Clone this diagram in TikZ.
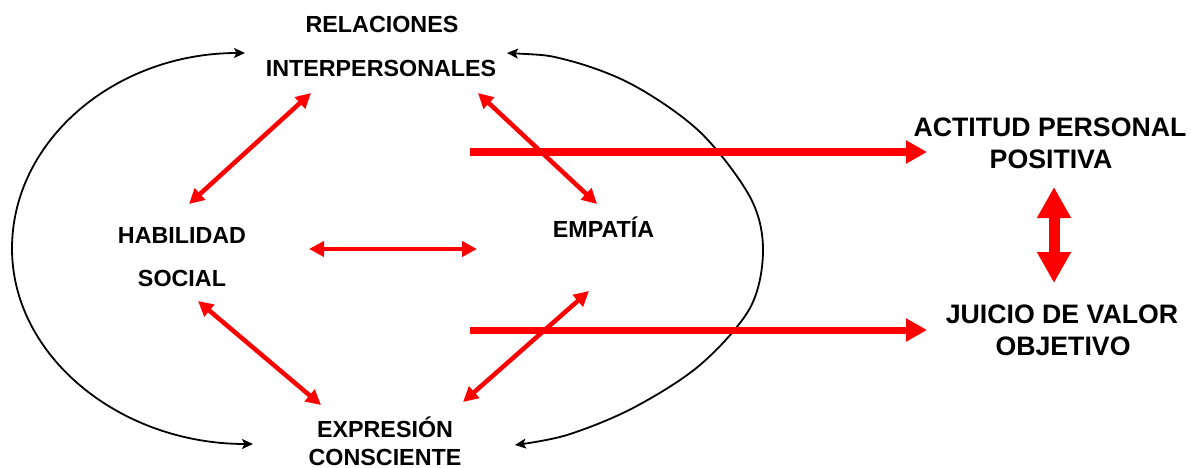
\documentclass[tikz,border=0pt]{standalone}
\usepackage{fontspec}
\setmainfont{Liberation Sans}
\usetikzlibrary{arrows.meta}
\begin{document}
\begin{tikzpicture}[x=1pt,y=-1pt,
  lblL/.style={font=\fontsize{23.3}{28}\selectfont\bfseries, inner sep=0pt, anchor=base},
  lblR/.style={font=\fontsize{26.7}{32}\selectfont\bfseries, inner sep=0pt, anchor=base},
  cycarrow/.style={black, line width=1.8pt, {Stealth[length=11pt,width=10pt,inset=2.5pt]}-{Stealth[length=11pt,width=10pt,inset=2.5pt]}},
  redarrow/.style={red, line width=4.5pt, {Triangle[length=15pt,width=15pt]}-{Triangle[length=15pt,width=15pt]}},
  thickarrow/.style={red, line width=7pt, -{Triangle[length=21pt,width=22pt]}},
  vdouble/.style={red, line width=11pt, {Triangle[length=31pt,width=32pt]}-{Triangle[length=31pt,width=32pt]}}]
\useasboundingbox (0,0) rectangle (1191,468);
\fill[white] (0,0) rectangle (1191,468);

% labels
\node[lblL] (rel1) at (382,33) {RELACIONES};
\node[lblL] (rel2) at (381,77) {INTERPERSONALES};
\node[lblL] (hab1) at (182,243) {HABILIDAD};
\node[lblL] (hab2) at (182,286) {SOCIAL};
\node[lblL] (emp)  at (603.5,237) {EMPATÍA};
\node[lblL] (exp1) at (385,437) {EXPRESIÓN};
\node[lblL] (exp2) at (385,465.5) {CONSCIENTE};
\node[lblR] (act1) at (1050,137) {ACTITUD PERSONAL};
\node[lblR] (act2) at (1051,168) {POSITIVA};
\node[lblR] (jui1) at (1062,323) {JUICIO DE VALOR};
\node[lblR] (jui2) at (1063,355) {OBJETIVO};

% connector end points
\coordinate (lt) at (245,53);  \coordinate (ll) at (12,248.5);  \coordinate (lb) at (253,444);
\coordinate (rt) at (507,53);  \coordinate (rr) at (763,250);   \coordinate (rb) at (515,445);
\coordinate (hr1) at (189,204); \coordinate (hr2) at (311,93);
\coordinate (re1) at (478,93);  \coordinate (re2) at (597,204);
\coordinate (he1) at (309,249); \coordinate (he2) at (477,249);
\coordinate (se1) at (198,301); \coordinate (se2) at (321,405);
\coordinate (ee1) at (589,291); \coordinate (ee2) at (463,402);
\coordinate (a1s) at (470,152); \coordinate (a1e) at (927,152);
\coordinate (a2s) at (470,330); \coordinate (a2e) at (927,330);
\coordinate (v1) at (1054,187); \coordinate (v2) at (1054,283);

% black cycle arcs
\draw[cycarrow] (lt) .. controls (115,53) and (12,140.5) .. (ll)
                     .. controls (12,356.5) and (120,444) .. (lb);
\draw[cycarrow] plot[smooth, tension=0.55] coordinates {(rt) (567,60) (633,85) (700,132) (750,197) (rr) (750,308) (700,365) (633,408) (567,435) (rb)};

% thick arrows to the right
\draw[thickarrow] (a1s) -- (a1e);
\draw[thickarrow] (a2s) -- (a2e);
\draw[vdouble] (v1) -- (v2);

% red double arrows
\draw[redarrow] (hr1) -- (hr2);
\draw[redarrow] (re1) -- (re2);
\draw[redarrow] (he1) -- (he2);
\draw[redarrow] (se1) -- (se2);
\draw[redarrow] (ee1) -- (ee2);
\end{tikzpicture}
\end{document}
